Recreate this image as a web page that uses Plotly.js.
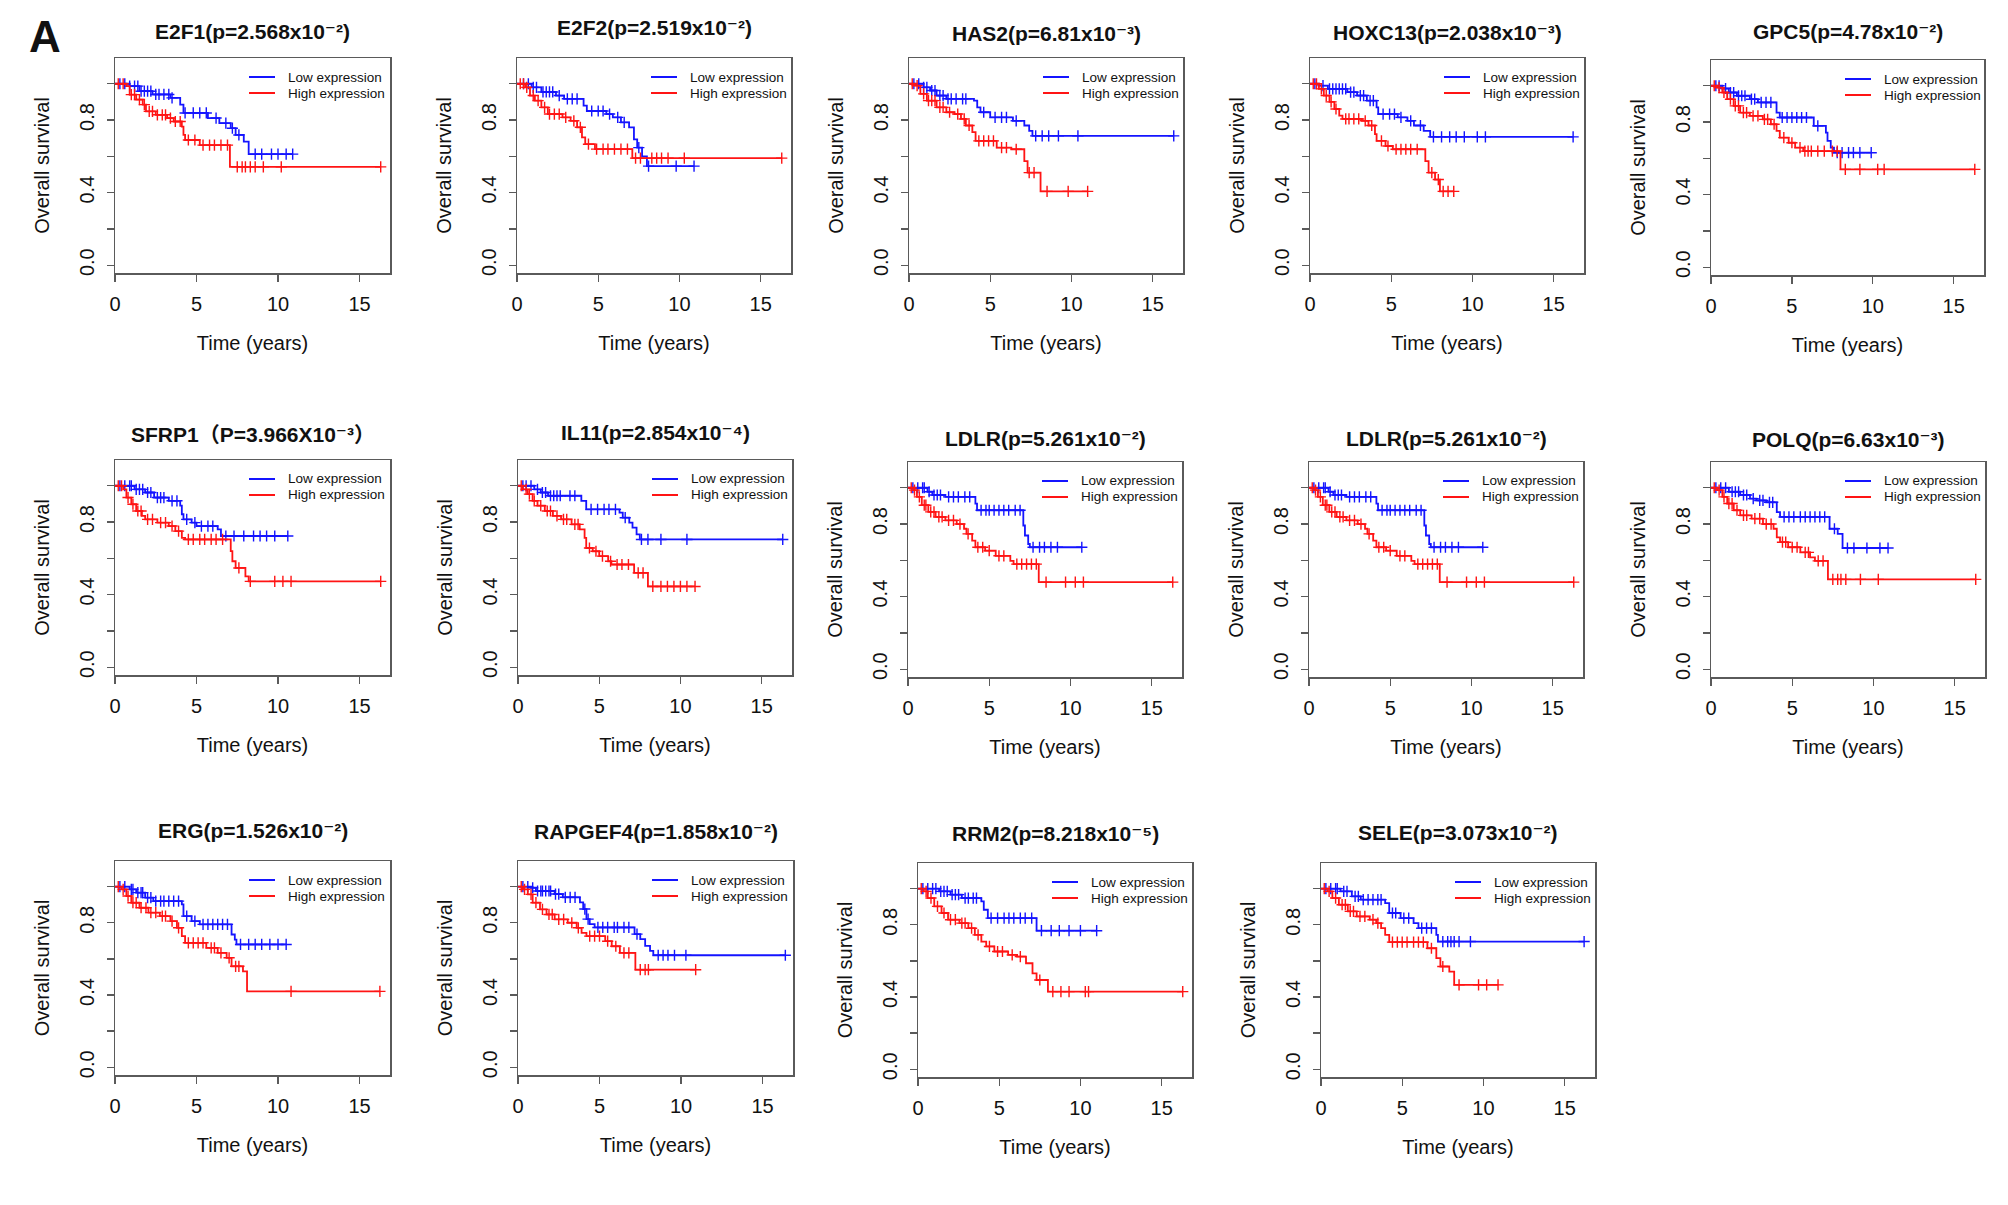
<!DOCTYPE html>
<html>
<head>
<meta charset="utf-8">
<script src="https://cdn.plot.ly/plotly-3.0.1.min.js"></script>
<style>html,body{margin:0;padding:0;background:#fff;}#chart{width:2008px;height:1205px;}</style>
</head>
<body>
<div id="chart"></div>
<script>
// ---------------- DATA ----------------
const seriesNames = ['Low expression', 'High expression'];
const xTitle = 'Time (years)';
const yTitle = 'Overall survival';
const genes = ['E2F1','E2F2','HAS2','HOXC13','GPC5','SFRP1','IL11','LDLR','LDLR','POLQ','ERG','RAPGEF4','RRM2','SELE'];
const titleText = [
  'E2F1(p=2.568x10⁻²)',
  'E2F2(p=2.519x10⁻²)',
  'HAS2(p=6.81x10⁻³)',
  'HOXC13(p=2.038x10⁻³)',
  'GPC5(p=4.78x10⁻²)',
  'SFRP1（P=3.966X10⁻³）',
  'IL11(p=2.854x10⁻⁴)',
  'LDLR(p=5.261x10⁻²)',
  'LDLR(p=5.261x10⁻²)',
  'POLQ(p=6.63x10⁻³)',
  'ERG(p=1.526x10⁻²)',
  'RAPGEF4(p=1.858x10⁻²)',
  'RRM2(p=8.218x10⁻⁵)',
  'SELE(p=3.073x10⁻²)'
];
const xTicks = [0, 5, 10, 15];
const yLabelTicks = [0, 0.4, 0.8];
const yLabelText = ['0.0', '0.4', '0.8'];
const yMinorStep = 0.2;

// Step times (T), survival after each step (S), censor times (C)
const E2F1_lowT = [0,0.9,1.5,2.3,3.4,4.0,4.2,5.7,6.4,7.1,7.4,7.9,8.2];
const E2F1_lowS = [1,0.987,0.959,0.941,0.922,0.885,0.839,0.811,0.783,0.755,0.718,0.681,0.612];
const E2F1_lowC = [0.3,0.6,0.9,1.2,1.4,1.6,1.8,2.0,2.2,2.5,2.7,3.0,3.3,3.5,4.3,4.8,5.2,5.6,6.2,6.8,7.2,7.6,8.6,9.0,9.6,10.0,10.5,10.9];
const E2F1_highT = [0,0.7,0.9,1.3,1.7,1.9,2.5,3.2,3.6,4.1,4.2,4.3,5.2,7.05];
const E2F1_highS = [1,0.987,0.94,0.913,0.885,0.848,0.829,0.811,0.792,0.764,0.718,0.69,0.662,0.542];
const E2F1_highC = [0.2,0.5,1.0,1.2,1.5,1.8,2.1,2.3,2.6,2.9,3.1,3.4,3.7,4.0,4.5,4.9,5.4,5.8,6.1,6.5,6.9,7.5,7.8,8.0,8.3,8.6,9.1,10.2,16.3];

const E2F2_lowT = [0,0.9,1.5,2.4,2.9,4.1,4.3,5.5,5.9,6.4,6.9,7.2,7.4,7.7,8.0];
const E2F2_lowS = [1,0.98,0.955,0.935,0.917,0.88,0.85,0.833,0.815,0.787,0.76,0.694,0.648,0.60,0.546];
const E2F2_lowC = [0.4,0.7,1.0,1.2,1.6,1.8,2.0,2.2,2.6,3.1,3.4,3.7,4.6,5.0,5.3,5.7,6.2,6.6,7.5,8.1,9.8,10.9];
const E2F2_highT = [0,0.5,0.8,1.1,1.5,1.9,2.8,3.3,3.7,4.0,4.2,4.8,7.1];
const E2F2_highS = [1,0.98,0.935,0.907,0.87,0.833,0.815,0.796,0.76,0.704,0.667,0.64,0.59];
const E2F2_highC = [0.2,0.4,0.6,1.0,1.3,1.7,2.0,2.3,2.6,3.0,3.5,3.9,4.4,4.9,5.3,5.6,6.0,6.4,6.8,7.3,7.6,8.3,8.6,8.9,9.3,10.3,16.3];

const HAS2_lowT = [0,0.9,1.3,1.7,2.3,4.0,4.2,4.4,5.0,6.4,7.1,7.4,7.6];
const HAS2_lowS = [1,0.98,0.963,0.935,0.917,0.907,0.87,0.843,0.815,0.796,0.77,0.74,0.713];
const HAS2_lowC = [0.3,0.6,0.9,1.1,1.4,1.6,1.9,2.1,2.4,2.6,2.9,3.3,3.5,4.6,5.3,5.7,6.0,6.6,7.8,8.2,8.6,9.2,10.4,16.3];
const HAS2_highT = [0,0.35,0.7,1.1,1.7,2.3,2.8,3.2,3.5,3.9,4.1,5.4,6.3,7.1,7.3,8.1];
const HAS2_highS = [1,0.99,0.944,0.907,0.87,0.843,0.833,0.806,0.77,0.733,0.685,0.648,0.639,0.574,0.51,0.407];
const HAS2_highC = [0.2,0.5,0.9,1.2,1.4,1.6,1.9,2.1,2.5,3.0,3.4,3.7,4.3,4.6,4.9,5.2,5.7,6.0,6.6,7.4,7.7,8.5,9.8,11.0];

const HOXC13_lowT = [0,0.55,1.1,2.3,2.9,3.5,4.1,4.2,5.4,6.0,6.4,7.0,7.4];
const HOXC13_lowS = [1,0.99,0.972,0.954,0.935,0.907,0.87,0.833,0.815,0.796,0.77,0.74,0.707];
const HOXC13_lowC = [0.3,0.8,1.2,1.4,1.6,1.8,2.0,2.2,2.5,2.7,3.1,3.3,3.7,3.9,4.5,4.9,5.2,5.6,6.2,6.8,7.6,8.1,8.6,9.0,9.5,10.3,10.8,16.2];
const HOXC13_highT = [0,0.55,0.85,1.2,1.5,1.8,2.0,3.2,3.6,4.0,4.1,4.65,5.1,7.1,7.3,7.7,8.0];
const HOXC13_highS = [1,0.972,0.935,0.9,0.861,0.824,0.806,0.796,0.77,0.722,0.685,0.657,0.639,0.574,0.51,0.472,0.407];
const HOXC13_highC = [0.2,0.4,0.7,1.0,1.3,1.6,2.2,2.4,2.7,3.0,3.4,3.8,4.4,4.8,5.3,5.6,5.9,6.2,6.6,7.5,7.9,8.2,8.5,8.85];

const GPC5_lowT = [0,0.7,1.1,1.6,2.4,2.9,4.05,4.25,6.35,7.1,7.2,7.4,7.6];
const GPC5_lowS = [1,0.985,0.963,0.945,0.926,0.908,0.852,0.825,0.779,0.742,0.696,0.659,0.631];
const GPC5_lowC = [0.3,0.5,0.9,1.2,1.4,1.7,1.9,2.1,2.5,2.7,3.1,3.4,3.7,4.4,4.7,5.0,5.3,5.6,5.9,6.6,7.8,8.1,8.5,8.8,9.2,9.9];
const GPC5_highT = [0,0.37,0.7,1.0,1.4,1.8,2.4,3.2,3.7,4.05,4.25,4.8,5.2,5.7,8.0];
const GPC5_highS = [1,0.99,0.963,0.926,0.889,0.852,0.834,0.815,0.788,0.751,0.714,0.686,0.659,0.64,0.539];
const GPC5_highC = [0.2,0.5,0.8,1.2,1.5,1.7,2.0,2.2,2.6,2.9,3.3,3.5,3.9,4.5,5.0,5.5,5.8,6.0,6.2,6.6,7.0,7.5,7.8,8.3,9.2,10.3,10.7,16.3];

const SFRP1_lowT = [0,1.2,1.85,2.4,3.3,4.0,4.1,4.2,4.7,5.0,6.3,6.5];
const SFRP1_lowS = [1,0.98,0.963,0.935,0.917,0.89,0.843,0.815,0.797,0.778,0.76,0.723];
const SFRP1_lowC = [0.3,0.6,0.9,1.0,1.3,1.5,1.7,2.0,2.2,2.6,2.8,3.0,3.5,3.8,4.4,4.9,5.3,5.7,6.0,6.8,7.3,7.9,8.5,8.9,9.3,9.8,10.6];
const SFRP1_highT = [0,0.5,0.7,1.0,1.3,1.65,1.85,2.6,3.3,3.7,4.1,4.3,7.1,7.2,7.4,8.0,8.2];
const SFRP1_highS = [1,0.98,0.935,0.898,0.861,0.834,0.815,0.797,0.778,0.75,0.713,0.704,0.64,0.584,0.547,0.501,0.473];
const SFRP1_highC = [0.2,0.4,0.8,1.1,1.4,1.6,2.0,2.3,2.8,3.1,3.5,3.9,4.5,4.8,5.2,5.5,5.9,6.2,6.6,7.6,8.3,9.8,10.3,10.8,16.3];

const IL11_lowT = [0,1.0,1.4,1.85,3.9,4.2,6.25,6.45,6.85,7.05,7.3,7.5];
const IL11_lowS = [1,0.98,0.963,0.945,0.917,0.87,0.852,0.824,0.797,0.769,0.732,0.704];
const IL11_lowC = [0.3,0.5,0.8,1.2,1.5,1.7,2.0,2.2,2.4,2.6,3.2,3.5,4.5,4.9,5.3,5.6,6.0,6.6,7.6,8.0,8.8,10.4,16.3];
const IL11_highT = [0,0.3,0.6,0.9,1.2,1.65,2.15,2.65,3.3,3.8,4.1,4.2,4.6,5.0,5.55,5.75,7.15,8.0];
const IL11_highS = [1,0.98,0.954,0.917,0.89,0.861,0.834,0.815,0.787,0.76,0.713,0.657,0.639,0.612,0.584,0.566,0.52,0.445];
const IL11_highC = [0.2,0.5,0.7,1.0,1.4,1.8,2.0,2.4,2.8,3.0,3.5,3.7,4.4,4.8,5.2,5.7,6.1,6.4,6.8,7.4,7.7,8.3,8.8,9.2,9.6,10.0,10.4,10.9];

const LDLR_lowT = [0,1.2,1.5,2.3,4.15,4.25,7.1,7.2,7.4,7.5];
const LDLR_lowS = [1,0.978,0.96,0.95,0.913,0.876,0.792,0.737,0.69,0.672];
const LDLR_lowC = [0.3,0.6,0.9,1.0,1.3,1.6,1.8,2.0,2.5,2.8,3.1,3.5,3.8,4.5,4.8,5.0,5.3,5.6,5.9,6.2,6.6,6.9,7.7,8.1,8.4,8.8,9.2,10.7];
const LDLR_highT = [0,0.35,0.55,0.85,1.25,1.7,2.3,3.0,3.45,3.6,3.95,4.15,4.75,5.4,6.3,6.5,8.05];
const LDLR_highS = [1,0.987,0.95,0.904,0.867,0.839,0.82,0.8,0.774,0.746,0.709,0.672,0.653,0.625,0.597,0.579,0.48];
const LDLR_highC = [0.2,0.4,0.7,1.0,1.1,1.4,1.6,1.9,2.1,2.5,2.8,3.2,3.7,4.3,4.6,5.0,5.6,5.9,6.7,7.0,7.3,7.6,7.9,8.5,9.7,10.3,10.8,16.3];

const POLQ_lowT = [0,1.1,1.8,2.4,2.8,3.4,4.05,4.25,7.3,7.8,8.1];
const POLQ_lowS = [1,0.978,0.96,0.94,0.93,0.92,0.866,0.839,0.774,0.746,0.668];
const POLQ_lowC = [0.3,0.6,0.9,1.3,1.5,1.7,2.0,2.2,2.6,3.0,3.2,3.6,3.8,4.5,4.8,5.1,5.5,5.8,6.1,6.4,6.7,7.0,7.6,8.4,8.8,9.6,10.4,10.9];
const POLQ_highT = [0,0.37,0.7,1.0,1.4,1.8,2.5,3.2,3.85,4.05,4.25,4.75,5.5,6.1,6.4,7.2];
const POLQ_highS = [1,0.987,0.95,0.913,0.876,0.848,0.83,0.8,0.774,0.727,0.7,0.672,0.644,0.616,0.597,0.495];
const POLQ_highC = [0.2,0.5,0.8,1.1,1.3,1.6,2.0,2.2,2.7,3.0,3.4,3.7,4.4,4.6,5.0,5.3,5.8,6.0,6.6,6.9,7.5,7.8,8.0,8.3,9.2,10.3,16.3];

const ERG_lowT = [0,0.9,1.3,1.85,2.35,4.1,4.2,4.7,5.2,7.15,7.35,7.45];
const ERG_lowS = [1,0.985,0.967,0.939,0.92,0.902,0.837,0.809,0.791,0.735,0.707,0.68];
const ERG_lowC = [0.3,0.6,1.0,1.1,1.4,1.6,1.7,2.0,2.2,2.5,2.8,3.0,3.3,3.6,3.9,4.4,4.9,5.4,5.7,6.0,6.3,6.6,6.9,7.7,8.2,8.6,9.0,9.5,10.0,10.5];
const ERG_highT = [0,0.4,0.7,1.0,1.5,2.05,2.75,3.4,3.8,4.1,4.3,5.6,6.3,6.85,7.15,7.85,8.1];
const ERG_highS = [1,0.985,0.948,0.911,0.883,0.856,0.837,0.809,0.772,0.726,0.689,0.661,0.633,0.606,0.559,0.531,0.42];
const ERG_highC = [0.2,0.5,0.8,1.1,1.3,1.6,1.9,2.2,2.5,2.9,3.1,3.5,3.9,4.5,4.8,5.1,5.4,5.9,6.1,6.5,7.0,7.4,7.6,10.8,16.25];

const RAPGEF4_lowT = [0,0.8,1.1,2.25,2.75,3.8,4.0,4.2,4.4,4.7,7.15,7.5,7.8,8.1,8.3];
const RAPGEF4_lowS = [1,0.994,0.976,0.959,0.941,0.913,0.876,0.82,0.793,0.774,0.737,0.709,0.672,0.644,0.62];
const RAPGEF4_lowC = [0.3,0.6,0.9,1.2,1.4,1.5,1.7,1.9,2.0,2.3,2.5,2.9,3.2,3.5,4.1,4.3,4.9,5.2,5.5,5.9,6.1,6.5,6.8,7.3,8.6,8.9,9.2,9.6,10.3,16.4];
const RAPGEF4_highT = [0,0.3,0.6,0.9,1.35,1.75,2.25,3.05,3.6,3.9,4.2,5.35,5.75,6.25,7.2];
const RAPGEF4_highS = [1,0.985,0.957,0.911,0.874,0.846,0.819,0.8,0.772,0.744,0.726,0.698,0.67,0.633,0.54];
const RAPGEF4_highC = [0.2,0.4,0.8,1.1,1.5,1.9,2.1,2.5,2.8,3.3,3.7,4.4,4.7,5.0,5.5,6.0,6.5,6.8,7.5,7.8,8.0,10.9];

const RRM2_lowT = [0,1.3,2.0,2.7,3.9,4.05,4.3,7.3];
const RRM2_lowS = [1,0.985,0.967,0.948,0.93,0.883,0.837,0.767];
const RRM2_lowC = [0.3,0.6,0.9,1.1,1.4,1.6,1.8,2.1,2.3,2.5,2.9,3.1,3.4,3.6,4.5,4.9,5.3,5.6,5.9,6.3,6.6,7.0,7.6,8.2,8.7,9.3,10.0,11.0];
const RRM2_highT = [0,0.35,0.6,1.0,1.45,1.85,2.55,3.1,3.5,3.9,4.2,4.7,5.55,6.1,6.65,7.05,7.3,8.0];
const RRM2_highS = [1,0.985,0.948,0.902,0.865,0.828,0.809,0.781,0.744,0.707,0.68,0.652,0.633,0.624,0.587,0.531,0.494,0.43];
const RRM2_highC = [0.2,0.5,0.8,1.2,1.6,2.0,2.3,2.7,2.9,3.3,3.7,4.4,4.9,5.2,5.8,6.3,7.5,8.3,8.8,9.3,10.3,10.5,16.3];

const SELE_lowT = [0,1.2,1.9,2.45,3.95,4.2,4.9,5.7,6.0,7.1,7.2];
const SELE_lowS = [1,0.985,0.957,0.939,0.92,0.865,0.837,0.809,0.781,0.744,0.707];
const SELE_lowC = [0.3,0.6,0.9,1.0,1.4,1.6,2.1,2.3,2.6,2.9,3.2,3.5,3.7,4.4,4.6,5.1,5.4,6.2,6.5,6.8,7.5,7.8,8.0,8.2,8.5,9.2,16.2];
const SELE_highT = [0,0.4,0.7,1.1,1.65,2.2,3.0,3.4,3.7,3.95,4.2,6.55,7.1,7.35,7.9,8.2];
const SELE_highS = [1,0.985,0.948,0.911,0.874,0.846,0.828,0.809,0.781,0.744,0.704,0.67,0.615,0.569,0.541,0.467];
const SELE_highC = [0.2,0.5,0.9,1.3,1.5,1.8,2.0,2.4,2.7,3.2,3.5,4.4,4.7,5.0,5.3,5.7,6.0,6.3,6.8,7.5,8.5,9.7,10.2,10.9];

// table of panels built from the arrays above
const panelData = [
  [E2F1_lowT,E2F1_lowS,E2F1_lowC,E2F1_highT,E2F1_highS,E2F1_highC],
  [E2F2_lowT,E2F2_lowS,E2F2_lowC,E2F2_highT,E2F2_highS,E2F2_highC],
  [HAS2_lowT,HAS2_lowS,HAS2_lowC,HAS2_highT,HAS2_highS,HAS2_highC],
  [HOXC13_lowT,HOXC13_lowS,HOXC13_lowC,HOXC13_highT,HOXC13_highS,HOXC13_highC],
  [GPC5_lowT,GPC5_lowS,GPC5_lowC,GPC5_highT,GPC5_highS,GPC5_highC],
  [SFRP1_lowT,SFRP1_lowS,SFRP1_lowC,SFRP1_highT,SFRP1_highS,SFRP1_highC],
  [IL11_lowT,IL11_lowS,IL11_lowC,IL11_highT,IL11_highS,IL11_highC],
  [LDLR_lowT,LDLR_lowS,LDLR_lowC,LDLR_highT,LDLR_highS,LDLR_highC],
  [LDLR_lowT,LDLR_lowS,LDLR_lowC,LDLR_highT,LDLR_highS,LDLR_highC],
  [POLQ_lowT,POLQ_lowS,POLQ_lowC,POLQ_highT,POLQ_highS,POLQ_highC],
  [ERG_lowT,ERG_lowS,ERG_lowC,ERG_highT,ERG_highS,ERG_highC],
  [RAPGEF4_lowT,RAPGEF4_lowS,RAPGEF4_lowC,RAPGEF4_highT,RAPGEF4_highS,RAPGEF4_highC],
  [RRM2_lowT,RRM2_lowS,RRM2_lowC,RRM2_highT,RRM2_highS,RRM2_highC],
  [SELE_lowT,SELE_lowS,SELE_lowC,SELE_highT,SELE_highS,SELE_highC]
];

// ---------------- LAYOUT CONSTANTS (pixels) ----------------
const W = 2008, H = 1205;
// [left, right, top, bottom] of each plot box
const BOX = [
  [115,390,58,273],[517,791,58,273],[909,1183,58,273],[1310,1584,58,273],[1711,1984,60,275],
  [115,390,460,675],[518,792,460,675],[908,1182,462,677],[1309,1583,462,677],[1711,1985,462,677],
  [115,390,861,1075],[518,793,861,1075],[918,1192,863,1077],[1321,1595,863,1077]
];
const TITLE_OFF = [27,31,25,26,29, 25,27,23,23,22, 31,30,30,31];
const FONT = 'Liberation Sans, Arial, DejaVu Sans, Noto Sans CJK SC, sans-serif';
const BLUE = '#1414ff', RED = '#ff1414';
const TXT = '#111';

function stepAt(T, S, t) {
  let s = S[0];
  for (let i = 0; i < T.length; i++) { if (T[i] <= t) s = S[i]; }
  return s;
}

const traces = [];
const layout = {
  width: W, height: H,
  margin: {l: 0, r: 0, t: 0, b: 0},
  paper_bgcolor: '#ffffff', plot_bgcolor: '#ffffff',
  showlegend: false,
  font: {family: FONT, color: TXT},
  annotations: [], shapes: []
};

panelData.forEach((d, i) => {
  const n = i + 1;
  const xs = n === 1 ? 'x' : 'x' + n;
  const ys = n === 1 ? 'y' : 'y' + n;
  const [l, r, t, b] = BOX[i];
  const bw = r - l, bh = b - t;
  const colors = [BLUE, RED];
  for (let k = 0; k < 2; k++) {
    const T = d[k * 3], S = d[k * 3 + 1], C = d[k * 3 + 2];
    const tEnd = Math.max(T[T.length - 1], C[C.length - 1]);
    traces.push({
      type: 'scatter', mode: 'lines', xaxis: xs, yaxis: ys,
      x: T.concat([tEnd]), y: S.concat([S[S.length - 1]]),
      line: {shape: 'hv', color: colors[k], width: 1.8},
      name: seriesNames[k] + ' ' + genes[i], hoverinfo: 'skip'
    });
    traces.push({
      type: 'scatter', mode: 'markers', xaxis: xs, yaxis: ys,
      x: C, y: C.map(c => stepAt(T, S, c)),
      marker: {symbol: 'cross-thin', size: 8, color: colors[k], line: {color: colors[k], width: 1.4}},
      name: seriesNames[k] + ' censored', hoverinfo: 'skip'
    });
  }
  const axCommon = {
    showgrid: false, zeroline: false, showline: true, mirror: true,
    linecolor: '#5a5a5a', linewidth: 1.5,
    ticks: 'outside', ticklen: 7, tickwidth: 1.3, tickcolor: '#5a5a5a',
    tickfont: {family: FONT, size: 20, color: TXT},
    fixedrange: true, automargin: false
  };
  layout['xaxis' + (n === 1 ? '' : n)] = Object.assign({}, axCommon, {
    domain: [l / W, r / W], anchor: ys,
    range: [0, 16.87], tickmode: 'array', tickvals: xTicks, ticktext: xTicks.map(String),
    ticklabelstandoff: 5,
    title: {text: xTitle, font: {family: FONT, size: 20, color: TXT}, standoff: 22}
  });
  layout['yaxis' + (n === 1 ? '' : n)] = Object.assign({}, axCommon, {
    domain: [1 - b / H, 1 - t / H], anchor: xs,
    range: [-0.043, 1.142], tickmode: 'array', tickvals: yLabelTicks, ticktext: yLabelText,
    tickangle: -90, ticklabelstandoff: 5,
    minor: {tickmode: 'linear', tick0: 0, dtick: yMinorStep, ticks: 'outside', ticklen: 7, tickwidth: 1.3, tickcolor: '#5a5a5a', showgrid: false},
    title: {text: yTitle, font: {family: FONT, size: 20, color: TXT}, standoff: 20}
  });
  const xd = xs + ' domain', yd = ys + ' domain';
  // panel title
  layout.annotations.push({
    xref: xd, yref: yd, x: 0.5, y: 1 + TITLE_OFF[i] / bh, xanchor: 'center', yanchor: 'middle',
    text: '<b>' + titleText[i] + '</b>', showarrow: false,
    font: {family: FONT, size: 21, color: TXT}
  });
  // legend
  const legY = [1 - 19 / bh, 1 - 35 / bh];
  for (let k = 0; k < 2; k++) {
    layout.shapes.push({
      type: 'line', xref: xd, yref: yd, x0: 134 / bw, x1: 160 / bw, y0: legY[k], y1: legY[k],
      line: {color: colors[k], width: 2}
    });
    layout.annotations.push({
      xref: xd, yref: yd, x: 171 / bw, y: legY[k], xanchor: 'left', yanchor: 'middle',
      text: seriesNames[k], showarrow: false, font: {family: FONT, size: 13.5, color: TXT}
    });
  }
});

layout.annotations.push({
  xref: 'paper', yref: 'paper', x: 45 / W, y: 1 - 36 / H, xanchor: 'center', yanchor: 'middle',
  text: '<b>A</b>', showarrow: false, font: {family: FONT, size: 44, color: '#111'}
});

Plotly.newPlot('chart', traces, layout, {staticPlot: true, displayModeBar: false});
</script>
</body>
</html>
